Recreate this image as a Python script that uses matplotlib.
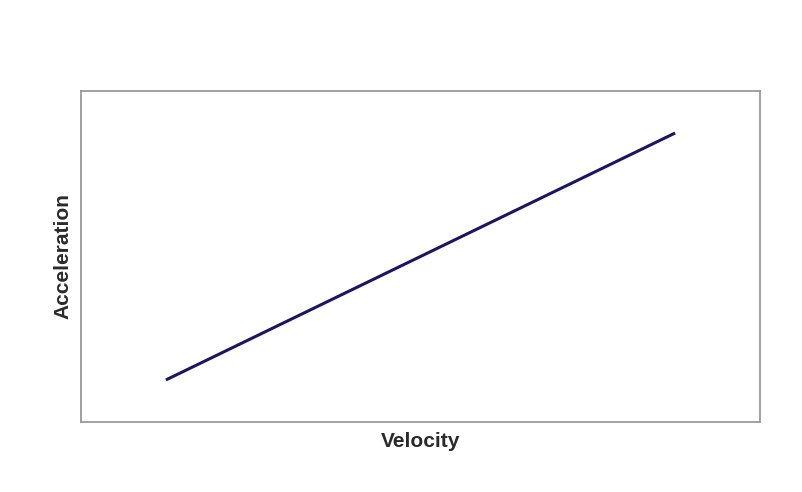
import matplotlib
matplotlib.use('Agg')
import matplotlib.pyplot as plt

# Data (unitless)
velocity = [1.25, 8.75]
acceleration = [1.27, 8.73]

plt.rcParams['font.family'] = ['Liberation Sans', 'DejaVu Sans']

fig = plt.figure(figsize=(8.02, 4.92), dpi=100, facecolor='white')
ax = fig.add_axes([0.101, 0.1423, 0.8466, 0.6728])

ax.plot(velocity, acceleration, color='#1c1464', linewidth=2.2, solid_capstyle='butt')

ax.set_xlim(0, 10)
ax.set_ylim(0, 10)
ax.set_xticks([])
ax.set_yticks([])

for s in ax.spines.values():
    s.set_color('#9a9a9a')
    s.set_linewidth(1.3)

ax.set_xlabel('Velocity', fontsize=15, fontweight='bold', labelpad=7, color='#2a2a2a')
ax.set_ylabel('Acceleration', fontsize=15, fontweight='bold', labelpad=6, color='#2a2a2a')

fig.savefig('out.png', dpi=100, facecolor='white')
